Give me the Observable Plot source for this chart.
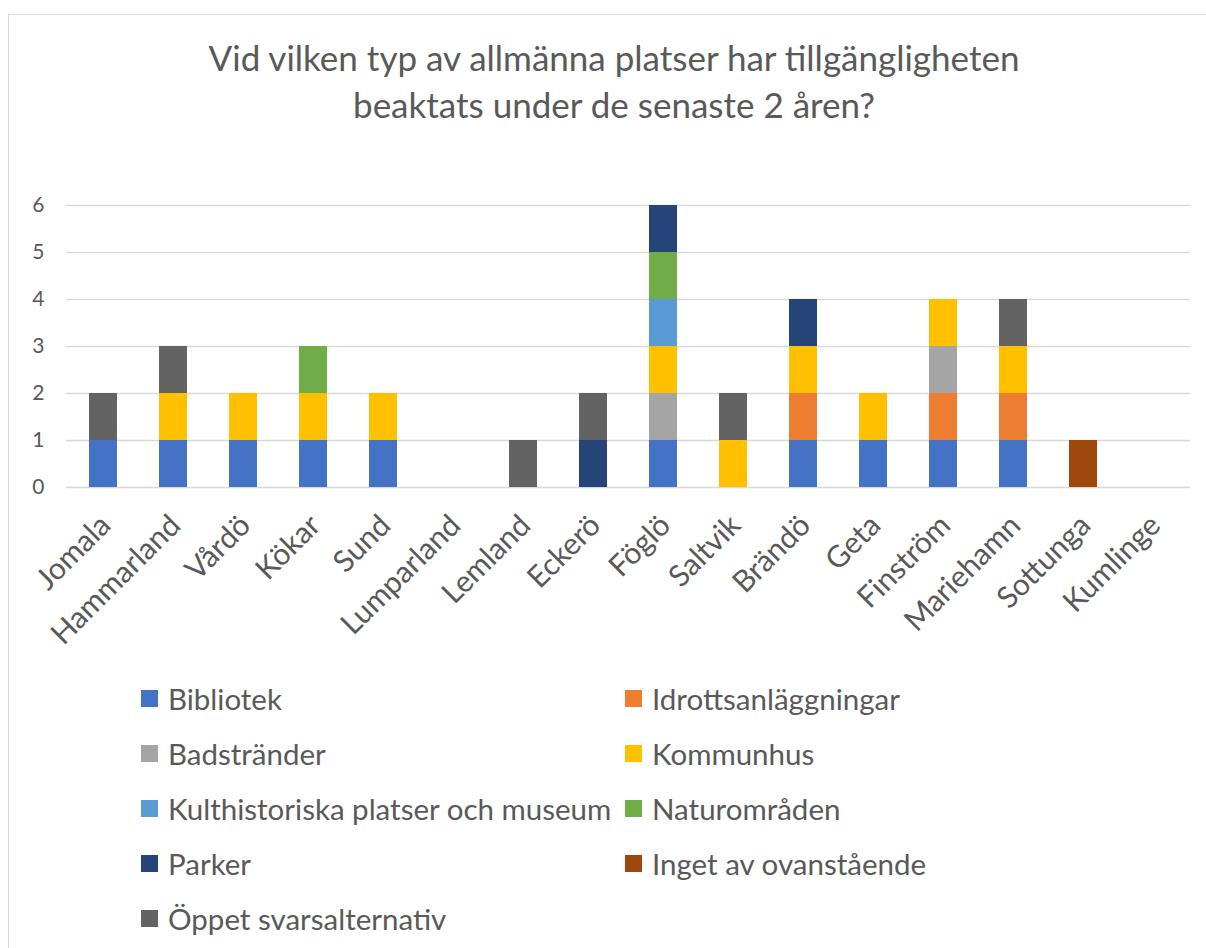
<!DOCTYPE html>
<html>
<head>
<meta charset="utf-8">
<script src="https://cdn.jsdelivr.net/npm/d3@7"></script>
<script src="https://cdn.jsdelivr.net/npm/@observablehq/plot@0.6"></script>
<style>
  html, body { margin: 0; padding: 0; background: #fff; overflow: hidden; }
  body { width: 1206px; height: 948px; position: relative; font-family: Lato, "Open Sans", sans-serif; color: #595959; }
  #frame { position: absolute; left: 8px; top: 14px; width: 1300px; height: 1000px; border: 1px solid #d9d9d9; box-sizing: border-box; }
  #title { position: absolute; left: 0; top: 34px; width: 1228px; text-align: center; font-size: 35px; line-height: 47px; color: #595959; }
  #chart { position: absolute; left: 0; top: 170px; }
  #legend { position: absolute; left: 0; top: 0; }
  .item { position: absolute; display: flex; align-items: center; font-size: 29.5px; color: #595959; white-space: nowrap; }
  .sw { width: 17px; height: 17px; margin-right: 10px; flex: none; }
</style>
</head>
<body>
<div id="frame"></div>
<div id="title">Vid vilken typ av allmänna platser har tillgängligheten<br>beaktats under de senaste 2 åren?</div>
<div id="chart"></div>
<div id="legend"></div>
<script>
const municipalities = ["Jomala","Hammarland","Vårdö","Kökar","Sund","Lumparland","Lemland","Eckerö","Föglö","Saltvik","Brändö","Geta","Finström","Mariehamn","Sottunga","Kumlinge"];
const categories = ["Bibliotek","Idrottsanläggningar","Badstränder","Kommunhus","Kulthistoriska platser och museum","Naturområden","Parker","Inget av ovanstående","Öppet svarsalternativ"];
const colors = ["#4472C4","#ED7D31","#A5A5A5","#FFC000","#5B9BD5","#70AD47","#264478","#9E480E","#636363"];

const bibliotek     = [1,1,1,1,1,0,0,0,1,0,1,1,1,1,0,0];
const idrott        = [0,0,0,0,0,0,0,0,0,0,1,0,1,1,0,0];
const badstrander   = [0,0,0,0,0,0,0,0,1,0,0,0,1,0,0,0];
const kommunhus     = [0,1,1,1,1,0,0,0,1,1,1,1,1,1,0,0];
const kulthistoriska= [0,0,0,0,0,0,0,0,1,0,0,0,0,0,0,0];
const naturomraden  = [0,0,0,1,0,0,0,0,1,0,0,0,0,0,0,0];
const parker        = [0,0,0,0,0,0,0,1,1,0,1,0,0,0,0,0];
const inget         = [0,0,0,0,0,0,0,0,0,0,0,0,0,0,1,0];
const oppet         = [1,1,0,0,0,0,1,1,0,1,0,0,0,1,0,0];

const yTicks = [0,1,2,3,4,5,6];

const series = [bibliotek, idrott, badstrander, kommunhus, kulthistoriska, naturomraden, parker, inget, oppet];
const rows = [];
series.forEach((vals, ci) => {
  vals.forEach((v, mi) => {
    if (v > 0) rows.push({municipality: municipalities[mi], category: categories[ci], value: v});
  });
});

const font = "Lato, 'Open Sans', sans-serif";
const chart = Plot.plot({
  width: 1206,
  height: 500,
  marginLeft: 66,
  marginRight: 16,
  marginTop: 35,
  marginBottom: 183,
  style: { fontFamily: font, color: "#595959", background: "transparent" },
  x: { type: "band", domain: municipalities, paddingInner: 0.6, paddingOuter: 0.3, label: null },
  y: { domain: [0, 6], label: null },
  color: { domain: categories, range: colors },
  marks: [
    Plot.ruleY(yTicks, { stroke: "#d9d9d9", strokeWidth: 1.3 }),
    Plot.barY(rows, Plot.stackY({ order: categories }, { x: "municipality", y: "value", fill: "category" })),
    Plot.axisY(yTicks, { tickSize: 0, tickPadding: 22, fontSize: 21, fill: "#595959", label: null }),
    Plot.axisX({ tickSize: 0, tickRotate: -45, tickPadding: 33, dx: 2, fontSize: 30, fill: "#595959", label: null })
  ]
});
document.getElementById("chart").appendChild(chart);

const legend = document.getElementById("legend");
const colX = [141, 625];
const rowY = [698, 753, 808, 863, 918];
categories.forEach((c, i) => {
  const col = i % 2, row = Math.floor(i / 2);
  const el = document.createElement("div");
  el.className = "item";
  el.style.left = colX[col] + "px";
  el.style.top = (rowY[row] - 18) + "px";
  el.style.height = "36px";
  const sw = document.createElement("span");
  sw.className = "sw";
  sw.style.background = colors[i];
  const t = document.createElement("span");
  t.textContent = c;
  el.appendChild(sw); el.appendChild(t);
  legend.appendChild(el);
});
</script>
</body>
</html>
